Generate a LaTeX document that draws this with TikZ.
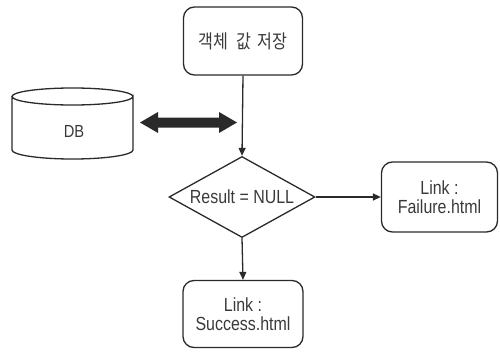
\documentclass[tikz,border=0pt]{standalone}
\usepackage{fontspec}
\setmainfont{Liberation Sans}[FakeStretch=0.84]
\newfontfamily\krfont{Noto Sans CJK KR}[FakeStretch=0.85]
\usetikzlibrary{arrows.meta,shapes.geometric}
\definecolor{ink}{HTML}{2A2A2A}
\definecolor{txt}{HTML}{3A3A3A}
\begin{document}
\begin{tikzpicture}[x=1pt,y=-1pt,
  every node/.style={text=txt},
  line/.style={draw=ink,line width=1.3pt},
  flow/.style={line,-{Triangle[length=8pt,width=7pt]}},
  roundbox/.style={line,rounded corners=11pt,minimum width=119pt,minimum height=69pt,
    align=center,font=\fontsize{19}{22}\selectfont,inner sep=0pt},
  decision/.style={line,diamond,shape aspect=1.82,minimum width=146pt,minimum height=81pt,
    inner sep=0pt,font=\fontsize{19}{22}\selectfont}]
\useasboundingbox (0,0) rectangle (500,353);

% process boxes
\node[roundbox,minimum height=68pt] (store) at (243,41) {\krfont\fontsize{19}{22}\selectfont 객체\hspace{8pt}값\hspace{6pt}저장};
\node[decision] (test) at (242,197) {Result = NULL};
\node[roundbox,minimum width=116pt,minimum height=70pt] (fail) at (439.5,197) {Link :\\[-3pt]Failure.html};
\node[roundbox,minimum width=120pt,minimum height=67pt] (ok) at (243,314) {Link :\\[-3pt]Success.html};

% database cylinder
\draw[line,fill=white] (12,96.5) -- (12,150) arc[start angle=180,end angle=0,x radius=60.5,y radius=9]
  -- (133,96.5) arc[start angle=0,end angle=360,x radius=60.5,y radius=8.5];
\node[font=\fontsize{17.5}{20}\selectfont] (db) at (74,131) {DB};

% two-way data exchange arrow
\fill[ink] (140,122.5) -- (158,112) -- (158,117.5) -- (219,117.5) -- (219,112) -- (237,122.5)
  -- (219,133) -- (219,127.5) -- (158,127.5) -- (158,133) -- cycle;

% flow connectors
\draw[flow] (store.south) -- (test.north);
\draw[flow] (test.east) -- (fail.west);
\draw[flow] (test.south) -- (ok.north);
\end{tikzpicture}
\end{document}
